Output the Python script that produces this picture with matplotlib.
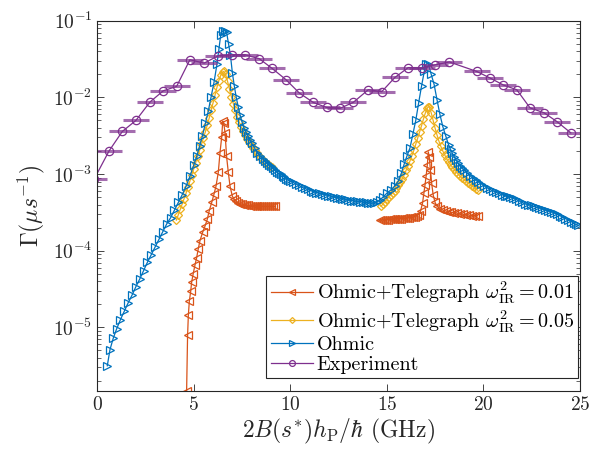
import numpy as np
import matplotlib
matplotlib.use("Agg")
import matplotlib.pyplot as plt

plt.rcParams["font.family"] = "serif"
plt.rcParams["font.serif"] = ["cmr10", "DejaVu Serif"]
plt.rcParams["mathtext.fontset"] = "cm"
plt.rcParams["axes.formatter.use_mathtext"] = True
plt.rcParams["axes.unicode_minus"] = False

nan = float("nan")

# Ohmic + Telegraph, omega_IR^2 = 0.01 (two branches, gap in between)
tel01_x = [4.63, 4.68, 4.72, 4.77, 4.84, 4.89, 4.97, 5.06, 5.15, 5.23, 5.32, 5.46,
           5.58, 5.70, 5.80, 5.93, 6.05, 6.15, 6.27, 6.36, 6.45, 6.50, 6.55, 6.62,
           6.70, 6.79, 6.88, 7.0, 7.1, 7.2, 7.3, 7.4, 7.5, 7.6, 7.7, 7.8, 7.9, 8.0,
           8.1, 8.2, 8.3, 8.4, 8.5, 8.6, 8.7, 8.8, 8.9, 9.0, 9.1, 9.2,
           nan,
           14.65, 14.75, 14.85, 14.95, 15.05, 15.15, 15.25, 15.35, 15.45, 15.55,
           15.65, 15.75, 15.85, 15.95, 16.05, 16.15, 16.25, 16.35, 16.45, 16.55,
           16.65, 16.75, 16.85, 16.92, 16.98, 17.04, 17.10, 17.15, 17.20, 17.26,
           17.32, 17.40, 17.50, 17.60, 17.75, 17.90, 18.05, 18.20, 18.35, 18.50,
           18.65, 18.80, 18.95, 19.10, 19.25, 19.40, 19.55, 19.70]
tel01_g = [1.5e-6, 7.9e-6, 1.45e-5, 2.19e-5, 2.95e-5, 3.89e-5, 5.01e-5, 6.46e-5,
           8.13e-5, 1.05e-4, 1.35e-4, 1.74e-4, 2.09e-4, 2.57e-4, 3.31e-4, 4.27e-4,
           5.50e-4, 6.92e-4, 1.05e-3, 1.91e-3, 3.09e-3, 4.90e-3, 4.68e-3, 3.47e-3,
           1.70e-3, 1.05e-3, 6.92e-4, 5.13e-4, 4.68e-4, 4.40e-4, 4.20e-4, 4.10e-4,
           4.05e-4, 4.0e-4, 3.95e-4, 3.90e-4, 3.88e-4, 3.86e-4, 3.84e-4, 3.82e-4,
           3.80e-4, 3.80e-4, 3.79e-4, 3.79e-4, 3.78e-4, 3.78e-4, 3.78e-4, 3.78e-4,
           3.78e-4, 3.78e-4,
           nan,
           2.51e-4, 2.52e-4, 2.53e-4, 2.54e-4, 2.55e-4, 2.56e-4, 2.57e-4, 2.58e-4,
           2.59e-4, 2.60e-4, 2.62e-4, 2.63e-4, 2.65e-4, 2.66e-4, 2.68e-4, 2.70e-4,
           2.72e-4, 2.75e-4, 2.78e-4, 2.85e-4, 2.95e-4, 3.31e-4, 4.17e-4, 5.62e-4,
           7.24e-4, 9.55e-4, 1.32e-3, 1.95e-3, 1.66e-3, 1.12e-3, 7.76e-4, 5.37e-4,
           4.27e-4, 3.80e-4, 3.55e-4, 3.39e-4, 3.31e-4, 3.24e-4, 3.16e-4, 3.13e-4,
           3.09e-4, 3.02e-4, 2.99e-4, 2.95e-4, 2.92e-4, 2.88e-4, 2.88e-4, 2.85e-4]

# Ohmic + Telegraph, omega_IR^2 = 0.05
tel05_x = [4.1, 4.2, 4.3, 4.4, 4.5, 4.6, 4.7, 4.8, 4.9, 5.0, 5.1, 5.2, 5.3, 5.4,
           5.5, 5.6, 5.7, 5.8, 5.9, 6.0, 6.1, 6.2, 6.3, 6.4, 6.5, 6.55, 6.65, 6.75,
           6.85, 6.95, 7.05, 7.15, 7.25, 7.35, 7.45, 7.55, 7.65, 7.75, 7.85, 7.95,
           8.05, 8.15, 8.25, 8.35, 8.45, 8.55, 8.65, 8.75, 8.85, 8.95, 9.05,
           nan,
           14.7, 14.8, 14.9, 15.0, 15.1, 15.2, 15.3, 15.4, 15.5, 15.6, 15.7, 15.8,
           15.9, 16.0, 16.1, 16.2, 16.3, 16.4, 16.5, 16.6, 16.7, 16.8, 16.9, 17.0,
           17.1, 17.15, 17.2, 17.3, 17.4, 17.5, 17.6, 17.7, 17.8, 17.9, 18.0, 18.1,
           18.2, 18.3, 18.4, 18.5, 18.6, 18.7, 18.8, 18.9, 19.0, 19.1, 19.2, 19.3,
           19.4, 19.5, 19.6, 19.7]
tel05_g = [2.51e-4, 2.95e-4, 3.47e-4, 4.07e-4, 4.79e-4, 5.62e-4, 6.76e-4, 8.13e-4,
           9.77e-4, 1.17e-3, 1.41e-3, 1.70e-3, 2.04e-3, 2.45e-3, 2.95e-3, 3.55e-3,
           4.37e-3, 5.37e-3, 6.76e-3, 8.51e-3, 1.07e-2, 1.35e-2, 1.66e-2, 1.95e-2,
           2.14e-2, 2.19e-2, 2.0e-2, 1.62e-2, 1.29e-2, 1.02e-2, 8.32e-3, 6.76e-3,
           5.62e-3, 4.79e-3, 4.17e-3, 3.63e-3, 3.24e-3, 2.88e-3, 2.63e-3, 2.40e-3,
           2.19e-3, 2.04e-3, 1.91e-3, 1.78e-3, 1.66e-3, 1.58e-3, 1.48e-3, 1.41e-3,
           1.35e-3, 1.29e-3, 1.23e-3,
           nan,
           3.80e-4, 4.07e-4, 4.37e-4, 4.68e-4, 5.01e-4, 5.37e-4, 5.62e-4, 6.03e-4,
           6.61e-4, 7.24e-4, 7.94e-4, 8.71e-4, 9.77e-4, 1.12e-3, 1.29e-3, 1.48e-3,
           1.74e-3, 2.04e-3, 2.45e-3, 2.95e-3, 3.55e-3, 4.27e-3, 5.25e-3, 6.31e-3,
           7.24e-3, 7.59e-3, 7.41e-3, 6.31e-3, 5.01e-3, 3.98e-3, 3.24e-3, 2.69e-3,
           2.29e-3, 2.0e-3, 1.78e-3, 1.58e-3, 1.45e-3, 1.32e-3, 1.23e-3, 1.15e-3,
           1.07e-3, 1.0e-3, 9.33e-4, 8.91e-4, 8.51e-4, 8.13e-4, 7.76e-4, 7.41e-4,
           7.08e-4, 6.76e-4, 6.46e-4, 6.17e-4]

# Ohmic
ohmic_x = [0.52, 0.66, 0.83, 1.0, 1.2, 1.4, 1.6, 1.8, 2.0, 2.2, 2.4, 2.6, 2.8, 3.0,
           3.2, 3.4, 3.6, 3.8, 4.0, 4.2, 4.4, 4.6, 4.8, 5.0, 5.15, 5.3, 5.45, 5.6,
           5.75, 5.9, 6.05, 6.2, 6.3, 6.4, 6.5, 6.6, 6.7, 6.8, 6.9, 7.0, 7.1, 7.2,
           7.3, 7.4, 7.5, 7.6, 7.7, 7.8, 7.9, 8.0, 8.15, 8.3, 8.45, 8.6, 8.7, 8.8,
           8.9, 9.0, 9.1, 9.2, 9.3, 9.4, 9.5, 9.6, 9.7, 9.8, 9.9, 10.0, 10.15, 10.3,
           10.45, 10.6, 10.75, 10.9, 11.05, 11.2, 11.35, 11.5, 11.65, 11.8, 11.95,
           12.1, 12.25, 12.4, 12.55, 12.7, 12.85, 13.0, 13.15, 13.3, 13.45, 13.6,
           13.75, 13.9, 14.05, 14.2, 14.35, 14.5, 14.65, 14.8, 15.0, 15.2, 15.4,
           15.6, 15.75, 15.9, 16.05, 16.2, 16.35, 16.5, 16.65, 16.8, 16.95, 17.05,
           17.15, 17.3, 17.45, 17.6, 17.75, 17.9, 18.05, 18.2, 18.3, 18.4, 18.5,
           18.6, 18.7, 18.8, 18.9, 19.0, 19.15, 19.3, 19.45, 19.6, 19.75, 19.9,
           20.05, 20.2, 20.35, 20.5, 20.65, 20.8, 20.95, 21.1, 21.25, 21.4, 21.55,
           21.7, 21.85, 22.0, 22.15, 22.3, 22.45, 22.6, 22.75, 22.9, 23.05, 23.2,
           23.35, 23.5, 23.65, 23.8, 23.95, 24.1, 24.25, 24.4, 24.55, 24.7, 24.8,
           24.9]
ohmic_g = [3.16e-6, 5.13e-6, 7.24e-6, 9.5e-6, 1.26e-5, 1.62e-5, 2.09e-5, 2.63e-5,
           3.39e-5, 4.27e-5, 5.5e-5, 7.08e-5, 8.9e-5, 1.12e-4, 1.41e-4, 1.78e-4,
           2.24e-4, 2.69e-4, 3.39e-4, 4.27e-4, 5.37e-4, 6.92e-4, 9.33e-4, 1.32e-3,
           1.70e-3, 2.29e-3, 3.16e-3, 4.57e-3, 6.61e-3, 1.02e-2, 1.58e-2, 2.69e-2,
           4.27e-2, 6.61e-2, 7.41e-2, 7.41e-2, 7.08e-2, 5.01e-2, 3.55e-2, 2.09e-2,
           1.41e-2, 1.0e-2, 7.59e-3, 5.89e-3, 4.79e-3, 3.98e-3, 3.55e-3, 3.16e-3,
           2.82e-3, 2.51e-3, 2.19e-3, 1.91e-3, 1.70e-3, 1.55e-3, 1.46e-3, 1.38e-3,
           1.32e-3, 1.26e-3, 1.19e-3, 1.12e-3, 1.07e-3, 1.02e-3, 9.9e-4, 9.55e-4,
           9.1e-4, 8.71e-4, 8.4e-4, 8.13e-4, 7.8e-4, 7.41e-4, 7.1e-4, 6.76e-4,
           6.5e-4, 6.31e-4, 6.1e-4, 5.89e-4, 5.75e-4, 5.62e-4, 5.5e-4, 5.37e-4,
           5.25e-4, 5.13e-4, 5.0e-4, 4.90e-4, 4.85e-4, 4.79e-4, 4.68e-4, 4.57e-4,
           4.52e-4, 4.47e-4, 4.42e-4, 4.37e-4, 4.32e-4, 4.27e-4, 4.22e-4, 4.17e-4,
           4.22e-4, 4.37e-4, 4.6e-4, 5.01e-4, 5.62e-4, 6.17e-4, 6.92e-4, 8.13e-4,
           1.02e-3, 1.35e-3, 1.74e-3, 2.19e-3, 3.31e-3, 5.01e-3, 8.51e-3, 1.41e-2,
           2.24e-2, 2.75e-2, 2.75e-2, 2.0e-2, 1.48e-2, 9.33e-3, 6.03e-3, 4.17e-3,
           3.16e-3, 2.40e-3, 2.1e-3, 1.86e-3, 1.68e-3, 1.51e-3, 1.38e-3, 1.26e-3,
           1.19e-3, 1.12e-3, 1.03e-3, 9.55e-4, 8.9e-4, 8.32e-4, 7.85e-4, 7.41e-4,
           7.0e-4, 6.61e-4, 6.3e-4, 6.03e-4, 5.8e-4, 5.62e-4, 5.4e-4, 5.25e-4,
           5.1e-4, 5.01e-4, 4.85e-4, 4.68e-4, 4.47e-4, 4.27e-4, 4.1e-4, 3.98e-4,
           3.9e-4, 3.80e-4, 3.7e-4, 3.63e-4, 3.5e-4, 3.39e-4, 3.3e-4, 3.24e-4,
           3.13e-4, 3.02e-4, 2.88e-4, 2.75e-4, 2.63e-4, 2.51e-4, 2.4e-4, 2.29e-4,
           2.2e-4, 2.14e-4]

# Experiment
exp_x = [-0.15, 0.61, 1.30, 2.0, 2.73, 3.42, 4.11, 4.80, 5.54, 6.27, 6.96, 7.65,
         8.39, 9.05, 9.78, 10.47, 11.19, 11.88, 12.57, 13.26, 14.04, 14.74, 15.42,
         16.11, 16.81, 17.5, 18.24, 19.66, 20.35, 21.04, 21.73, 22.42, 23.15,
         23.83, 24.53]
exp_g = [8.7e-4, 2.0e-3, 3.6e-3, 5.0e-3, 8.7e-3, 1.22e-2, 1.39e-2, 3.1e-2, 2.8e-2,
         3.5e-2, 3.6e-2, 3.6e-2, 3.2e-2, 2.4e-2, 1.7e-2, 1.14e-2, 8.6e-3, 7.4e-3,
         7.2e-3, 8.6e-3, 1.26e-2, 1.19e-2, 1.82e-2, 2.45e-2, 2.41e-2, 2.66e-2,
         2.9e-2, 2.18e-2, 1.79e-2, 1.45e-2, 1.26e-2, 7.3e-3, 6.3e-3, 4.8e-3, 3.45e-3]
exp_xerr = 0.67

c_orange = "#D95319"
c_yellow = "#EDB120"
c_blue = "#0072BD"
c_purple = "#7E2F8E"

fig = plt.figure(figsize=(6.04, 4.51), dpi=100)
ax = fig.add_axes([0.161, 0.133, 0.799, 0.821])

ax.plot(tel01_x, tel01_g, "-<", color=c_orange, mfc="none", ms=5.5, lw=0.9,
        mew=0.9, label=r"Ohmic+Telegraph $\omega^2_{\rm IR} = 0.01$")
ax.plot(tel05_x, tel05_g, "-D", color=c_yellow, mfc="none", ms=4.3, lw=0.9,
        mew=0.9, label=r"Ohmic+Telegraph $\omega^2_{\rm IR} = 0.05$")
ax.plot(ohmic_x, ohmic_g, "->", color=c_blue, mfc="none", ms=5.5, lw=0.9,
        mew=0.9, label="Ohmic")
ax.errorbar(exp_x, exp_g, xerr=exp_xerr, fmt="none", ecolor=c_purple,
            elinewidth=2.2, alpha=0.7, capsize=0)
ax.plot(exp_x, exp_g, "-o", color=c_purple, mfc="none", ms=6, lw=0.9,
        mew=0.9, label="Experiment")

ax.set_yscale("log")
ax.set_xlim(0, 25)
ax.set_ylim(1.48e-6, 1e-1)
ax.set_xticks([0, 5, 10, 15, 20, 25])
ax.set_yticks([1e-5, 1e-4, 1e-3, 1e-2, 1e-1])

ax.tick_params(which="both", direction="in", top=True, right=True,
               labelsize=14, colors="#262626")
ax.tick_params(which="major", length=5, width=0.6)
ax.tick_params(which="minor", length=3, width=0.5)
for s in ax.spines.values():
    s.set_color("#262626")
    s.set_linewidth(0.8)

ax.set_xlabel(r"$2B(s^{*})h_{\rm P}/\hbar$ (GHz)", fontsize=17, color="#262626",
              labelpad=2)
ax.set_ylabel(r"$\Gamma(\mu s^{-1})$", fontsize=17, color="#262626", labelpad=4)

leg = ax.legend(loc="lower right", bbox_to_anchor=(0.997, 0.035), fontsize=14.5,
                fancybox=False, framealpha=1, edgecolor="#262626",
                handlelength=2.1, handletextpad=0.2, borderpad=0.2,
                labelspacing=0.08, borderaxespad=0, markerscale=0.7)
leg.get_frame().set_linewidth(0.8)

fig.savefig("out.png", dpi=100)
